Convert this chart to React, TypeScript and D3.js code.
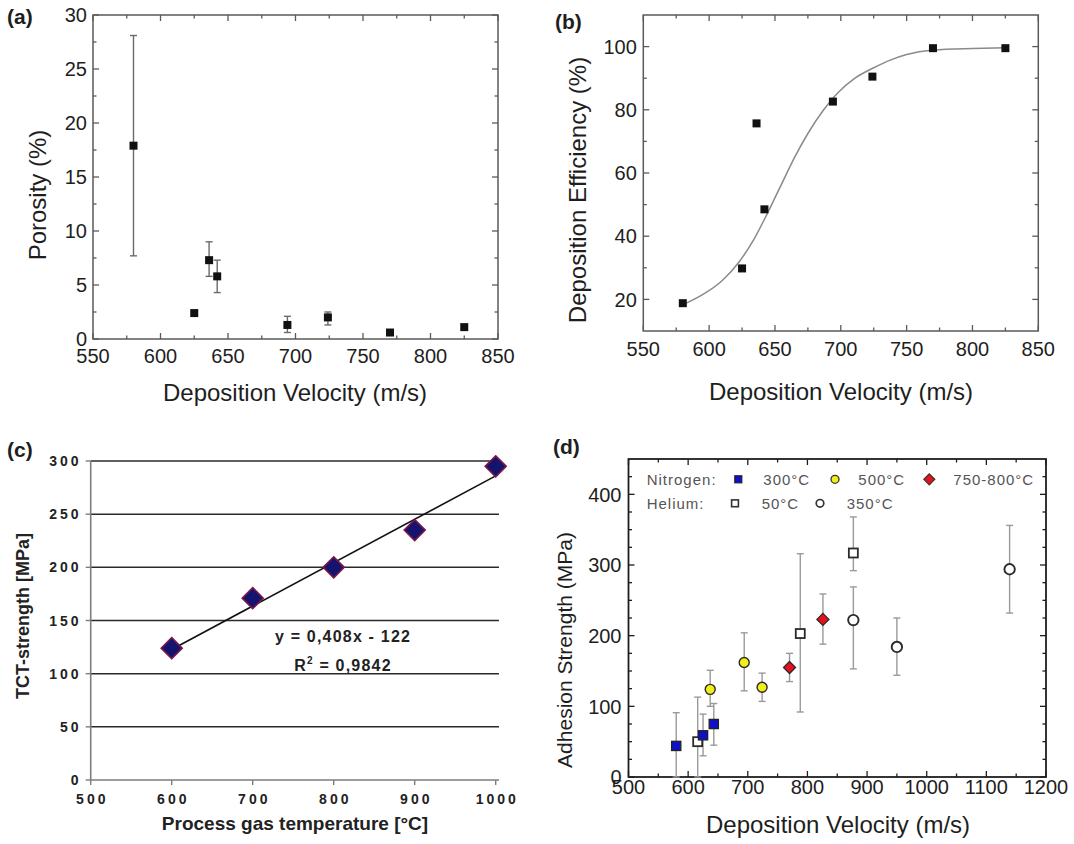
import React from 'react';
import * as d3 from 'd3';

const FONT = '"Liberation Sans", Arial, Helvetica, sans-serif';

// ---------- (a) / (b) data ----------
const velocity = [580, 625, 636, 642, 694, 724, 770, 825];
const porosity = [17.9, 2.4, 7.3, 5.8, 1.3, 2.0, 0.6, 1.1];
const porosityLow: (number | null)[] = [7.7, null, 5.8, 4.3, 0.6, 1.3, null, null];
const porosityHigh: (number | null)[] = [28.1, null, 9.0, 7.3, 2.1, 2.5, null, null];
const efficiency = [18.8, 29.8, 75.7, 48.5, 82.6, 90.5, 99.5, 99.5];
const fitVelocity = [581, 595, 610, 623, 634, 644, 655, 665, 675, 687, 698, 710, 725, 738, 750, 770, 800, 825];
const fitEfficiency = [18.5, 21.5, 26, 32, 39, 47, 56.5, 65, 72.5, 80, 85.5, 89.8, 93.3, 95.8, 97.5, 98.9, 99.4, 99.6];
const velocityTicksAB = [550, 600, 650, 700, 750, 800, 850];
const velocityMinorAB = [575, 625, 675, 725, 775, 825];
const porosityTicks = [0, 5, 10, 15, 20, 25, 30];
const porosityMinor = [2.5, 7.5, 12.5, 17.5, 22.5, 27.5];
const efficiencyTicks = [20, 40, 60, 80, 100];
const efficiencyMinor = [30, 50, 70, 90];

// ---------- (c) data ----------
const gasTemp = [600, 700, 800, 900, 1000];
const tctStrength = [124, 171, 200, 235, 295];
const trendSlope = 0.408;
const trendIntercept = -122;
const trendRange = [600, 1000];
const tempTicks = [500, 600, 700, 800, 900, 1000];
const tctTicks = [0, 50, 100, 150, 200, 250, 300];

// ---------- (d) data ----------
const n300X = [580, 625, 643];
const n300Y = [44, 59, 75];
const n300Lo = [0, 30, 45];
const n300Hi = [91, 89, 104];
const n500X = [637, 694, 724];
const n500Y = [124, 162, 127];
const n500Lo = [100, 122, 107];
const n500Hi = [151, 204, 147];
const n750X = [770, 826];
const n750Y = [155, 223];
const n750Lo = [135, 188];
const n750Hi = [175, 259];
const he50X = [616, 788, 877];
const he50Y = [50, 203, 317];
const he50Lo = [0, 92, 292];
const he50Hi = [113, 316, 368];
const he350X = [877, 950, 1139];
const he350Y = [222, 184, 294];
const he350Lo = [153, 144, 232];
const he350Hi = [269, 225, 356];
const velocityTicksD = [500, 600, 700, 800, 900, 1000, 1100, 1200];
const velocityMinorD = [550, 650, 750, 850, 950, 1050, 1150];
const adhesionTicks = [0, 100, 200, 300, 400];
const adhesionMinor = [25, 50, 75, 125, 150, 175, 225, 250, 275, 325, 350, 375, 425];

type Sc = d3.ScaleLinear<number, number>;

function OriginFrame(props: {
  x: Sc; y: Sc; xMajor: number[]; xMinor: number[]; yMajor: number[]; yMinor: number[];
  color: string; sw: number; fontSize: number; xLabelCY: number; yLabelGap: number; textColor: string;
}) {
  const { x, y, xMajor, xMinor, yMajor, yMinor, color, sw, fontSize, xLabelCY, yLabelGap, textColor } = props;
  const [x0, x1] = x.range();
  const [y0, y1] = y.range();
  const M = 6, m = 3.5;
  const tick = (k: string, a: number, b: number, c: number, d: number) => (
    <line key={k} x1={a} y1={b} x2={c} y2={d} stroke={color} strokeWidth={1.3} />
  );
  return (
    <g>
      {xMajor.map((v) => [
        tick('xb' + v, x(v), y0, x(v), y0 - M),
        tick('xt' + v, x(v), y1, x(v), y1 + M),
      ])}
      {xMinor.map((v) => [
        tick('xbm' + v, x(v), y0, x(v), y0 - m),
        tick('xtm' + v, x(v), y1, x(v), y1 + m),
      ])}
      {yMajor.map((v) => [
        tick('yl' + v, x0, y(v), x0 + M, y(v)),
        tick('yr' + v, x1, y(v), x1 - M, y(v)),
      ])}
      {yMinor.map((v) => [
        tick('ylm' + v, x0, y(v), x0 + m, y(v)),
        tick('yrm' + v, x1, y(v), x1 - m, y(v)),
      ])}
      <rect x={x0} y={y1} width={x1 - x0} height={y0 - y1} fill="none" stroke={color} strokeWidth={sw} />
      {xMajor.map((v) => (
        <text key={'xl' + v} x={x(v)} y={xLabelCY} dy="0.36em" textAnchor="middle" fontSize={fontSize} fill={textColor}>
          {v}
        </text>
      ))}
      {yMajor.map((v) => (
        <text key={'yl' + v} x={x0 - yLabelGap} y={y(v)} dy="0.36em" textAnchor="end" fontSize={fontSize} fill={textColor}>
          {v}
        </text>
      ))}
    </g>
  );
}

function ErrBar({ x, lo, hi, color, cap, sw }: { x: number; lo: number; hi: number; color: string; cap: number; sw: number }) {
  return (
    <g stroke={color} strokeWidth={sw}>
      <line x1={x} x2={x} y1={lo} y2={hi} />
      <line x1={x - cap} x2={x + cap} y1={lo} y2={lo} />
      <line x1={x - cap} x2={x + cap} y1={hi} y2={hi} />
    </g>
  );
}

const diamond = (cx: number, cy: number, r: number) => `M${cx},${cy - r}L${cx + r},${cy}L${cx},${cy + r}L${cx - r},${cy}Z`;

export default function App() {
  // Panel (a)
  const xa = d3.scaleLinear().domain([550, 850]).range([93, 498]);
  const ya = d3.scaleLinear().domain([0, 30]).range([339, 15]);
  // Panel (b)
  const xb = d3.scaleLinear().domain([550, 850]).range([643.3, 1038.3]);
  const yb = d3.scaleLinear().domain([10, 110]).range([331, 15]);
  // Panel (c)
  const xc = d3.scaleLinear().domain([500, 1000]).range([90.7, 495.7]);
  const yc = d3.scaleLinear().domain([0, 300]).range([780, 461]);
  // Panel (d)
  const xd = d3.scaleLinear().domain([500, 1200]).range([628.5, 1046]);
  const yd = d3.scaleLinear().domain([0, 450]).range([777, 459]);

  const fitLine = d3
    .line<number>()
    .x((_, i) => xb(fitVelocity[i]))
    .y((d) => yb(d))
    .curve(d3.curveMonotoneX)(fitEfficiency) as string;

  const txt = '#1e1e1e';
  const grey = '#8a8a8a';

  const dErr = (xs: number[], los: number[], his: number[], key: string) =>
    xs.map((v, i) => (
      <ErrBar key={key + i} x={xd(v)} lo={yd(los[i])} hi={yd(his[i])} color="#9a9a9a" cap={3.5} sw={1.4} />
    ));

  return (
    <svg width={1074} height={844} style={{ position: 'absolute', left: 0, top: 0, background: '#fff' }} fontFamily={FONT}>
      <rect x={0} y={0} width={1074} height={844} fill="#fff" />

      {/* ---------------- (a) ---------------- */}
      <text x={7} y={24} fontSize={21} fontWeight="bold" fill={txt}>(a)</text>
      <OriginFrame x={xa} y={ya} xMajor={velocityTicksAB} xMinor={velocityMinorAB} yMajor={porosityTicks} yMinor={porosityMinor}
        color="#5a5a5a" sw={1.5} fontSize={20} xLabelCY={356} yLabelGap={6} textColor={txt} />
      {velocity.map((v, i) =>
        porosityLow[i] != null ? (
          <ErrBar key={'ea' + i} x={xa(v)} lo={ya(porosityLow[i] as number)} hi={ya(porosityHigh[i] as number)} color="#6a6a6a" cap={3.5} sw={1.4} />
        ) : null
      )}
      {velocity.map((v, i) => (
        <rect key={'pa' + i} x={xa(v) - 4} y={ya(porosity[i]) - 4} width={8} height={8} fill="#111" />
      ))}
      <text x={295} y={401} textAnchor="middle" fontSize={24} fill={txt}>Deposition Velocity (m/s)</text>
      <text transform="translate(46,195) rotate(-90)" textAnchor="middle" fontSize={24} fill={txt}>Porosity (%)</text>

      {/* ---------------- (b) ---------------- */}
      <text x={555} y={29} fontSize={21} fontWeight="bold" fill={txt}>(b)</text>
      <OriginFrame x={xb} y={yb} xMajor={velocityTicksAB} xMinor={velocityMinorAB} yMajor={efficiencyTicks} yMinor={efficiencyMinor}
        color="#5a5a5a" sw={1.5} fontSize={20} xLabelCY={348.5} yLabelGap={6.5} textColor={txt} />
      <path d={fitLine} fill="none" stroke={grey} strokeWidth={1.5} />
      {velocity.map((v, i) => (
        <rect key={'pb' + i} x={xb(v) - 4} y={yb(efficiency[i]) - 4} width={8} height={8} fill="#111" />
      ))}
      <text x={841} y={400} textAnchor="middle" fontSize={24} fill={txt}>Deposition Velocity (m/s)</text>
      <text transform="translate(586,190) rotate(-90)" textAnchor="middle" fontSize={24} fill={txt}>Deposition Efficiency (%)</text>

      {/* ---------------- (c) ---------------- */}
      <text x={7} y={457} fontSize={21} fontWeight="bold" fill={txt}>(c)</text>
      {tctTicks.filter((v) => v > 0).map((v) => (
        <line key={'gc' + v} x1={xc(500)} x2={499} y1={yc(v)} y2={yc(v)} stroke="#2a2a2a" strokeWidth={1.5} />
      ))}
      <line x1={xc(500)} x2={xc(500)} y1={yc(0)} y2={yc(300)} stroke="#7d7d7d" strokeWidth={1.6} />
      <line x1={xc(500)} x2={499} y1={yc(0)} y2={yc(0)} stroke="#7d7d7d" strokeWidth={1.6} />
      {tctTicks.map((v) => (
        <line key={'tc' + v} x1={xc(500) - 5} x2={xc(500)} y1={yc(v)} y2={yc(v)} stroke="#7d7d7d" strokeWidth={1.4} />
      ))}
      {tempTicks.map((v) => (
        <line key={'tx' + v} x1={xc(v)} x2={xc(v)} y1={yc(0)} y2={yc(0) + 5} stroke="#7d7d7d" strokeWidth={1.4} />
      ))}
      {tctTicks.map((v) => (
        <text key={'lc' + v} x={81.5} y={yc(v)} dy="0.36em" textAnchor="end" fontSize={14} fontWeight="bold" letterSpacing={3} fill="#222">
          {v}
        </text>
      ))}
      {tempTicks.map((v) => (
        <text key={'lx' + v} x={xc(v) + 1.6} y={798.5} dy="0.36em" textAnchor="middle" fontSize={14} fontWeight="bold" letterSpacing={3} fill="#222">
          {v}
        </text>
      ))}
      <line
        x1={xc(trendRange[0])} y1={yc(trendSlope * trendRange[0] + trendIntercept)}
        x2={xc(trendRange[1])} y2={yc(trendSlope * trendRange[1] + trendIntercept)}
        stroke="#111" strokeWidth={1.6}
      />
      {gasTemp.map((v, i) => (
        <path key={'dc' + i} d={diamond(xc(v), yc(tctStrength[i]), 10.5)} fill="#14146e" stroke="#7a1848" strokeWidth={1.6} />
      ))}
      <text x={343} y={642} textAnchor="middle" fontSize={16} fontWeight="bold" letterSpacing={1.2} fill="#222">y = 0,408x - 122</text>
      <text x={343} y={671} textAnchor="middle" fontSize={16} fontWeight="bold" letterSpacing={1.2} fill="#222">
        R<tspan fontSize={10} dy={-7}>2</tspan><tspan dy={7}> = 0,9842</tspan>
      </text>
      <text x={295} y={830} textAnchor="middle" fontSize={19} fontWeight="bold" fill="#222">Process gas temperature [°C]</text>
      <text transform="translate(29,616) rotate(-90)" textAnchor="middle" fontSize={18} fontWeight="bold" fill="#222">TCT-strength [MPa]</text>

      {/* ---------------- (d) ---------------- */}
      <text x={553} y={454} fontSize={21} fontWeight="bold" fill={txt}>(d)</text>
      <OriginFrame x={xd} y={yd} xMajor={velocityTicksD} xMinor={velocityMinorD} yMajor={adhesionTicks} yMinor={adhesionMinor}
        color="#1e1e1e" sw={1.8} fontSize={20} xLabelCY={787} yLabelGap={7} textColor={txt} />
      {dErr(n300X, n300Lo, n300Hi, 'e1')}
      {dErr(n500X, n500Lo, n500Hi, 'e2')}
      {dErr(n750X, n750Lo, n750Hi, 'e3')}
      {dErr(he50X, he50Lo, he50Hi, 'e4')}
      {dErr(he350X, he350Lo, he350Hi, 'e5')}
      {he50X.map((v, i) => (
        <rect key={'h50' + i} x={xd(v) - 4.5} y={yd(he50Y[i]) - 4.5} width={9} height={9} fill="#fff" stroke="#2a2a2a" strokeWidth={1.8} />
      ))}
      {he350X.map((v, i) => (
        <circle key={'h350' + i} cx={xd(v)} cy={yd(he350Y[i])} r={5.2} fill="#fff" stroke="#2a2a2a" strokeWidth={1.9} />
      ))}
      {n300X.map((v, i) => (
        <rect key={'n300' + i} x={xd(v) - 4.6} y={yd(n300Y[i]) - 4.6} width={9.2} height={9.2} fill="#1010c8" stroke="#222" strokeWidth={1.3} />
      ))}
      {n500X.map((v, i) => (
        <circle key={'n500' + i} cx={xd(v)} cy={yd(n500Y[i])} r={5} fill="#f2ee1a" stroke="#2a2a2a" strokeWidth={1.4} />
      ))}
      {n750X.map((v, i) => (
        <path key={'n750' + i} d={diamond(xd(v), yd(n750Y[i]), 6)} fill="#e8101a" stroke="#2a2a2a" strokeWidth={1.3} />
      ))}

      {/* legend */}
      <g fontSize={15} letterSpacing={1} fill="#555">
        <text x={646.7} y={479.3} dy="0.36em">Nitrogen:</text>
        <rect x={738.3 - 3.6} y={479.3 - 3.6} width={7.2} height={7.2} fill="#1010c8" stroke="#222" strokeWidth={1} />
        <text x={763.3} y={479.3} dy="0.36em">300°C</text>
        <circle cx={835} cy={479.3} r={4} fill="#f2ee1a" stroke="#333" strokeWidth={1.3} />
        <text x={858.3} y={479.3} dy="0.36em">500°C</text>
        <path d={diamond(929.3, 479.3, 5.5)} fill="#e8101a" stroke="#333" strokeWidth={1.2} />
        <text x={953.3} y={479.3} dy="0.36em">750-800°C</text>

        <text x={646.7} y={503.3} dy="0.36em">Helium:</text>
        <rect x={735 - 3.4} y={503.3 - 3.4} width={6.8} height={6.8} fill="#fff" stroke="#333" strokeWidth={1.6} />
        <text x={761.7} y={503.3} dy="0.36em">50°C</text>
        <circle cx={820} cy={503.3} r={3.8} fill="#fff" stroke="#333" strokeWidth={1.7} />
        <text x={846.7} y={503.3} dy="0.36em">350°C</text>
      </g>

      <text x={838} y={833} textAnchor="middle" fontSize={24} fill={txt}>Deposition Velocity (m/s)</text>
      <text transform="translate(572,650) rotate(-90)" textAnchor="middle" fontSize={21} fill={txt}>Adhesion Strength (MPa)</text>
    </svg>
  );
}
